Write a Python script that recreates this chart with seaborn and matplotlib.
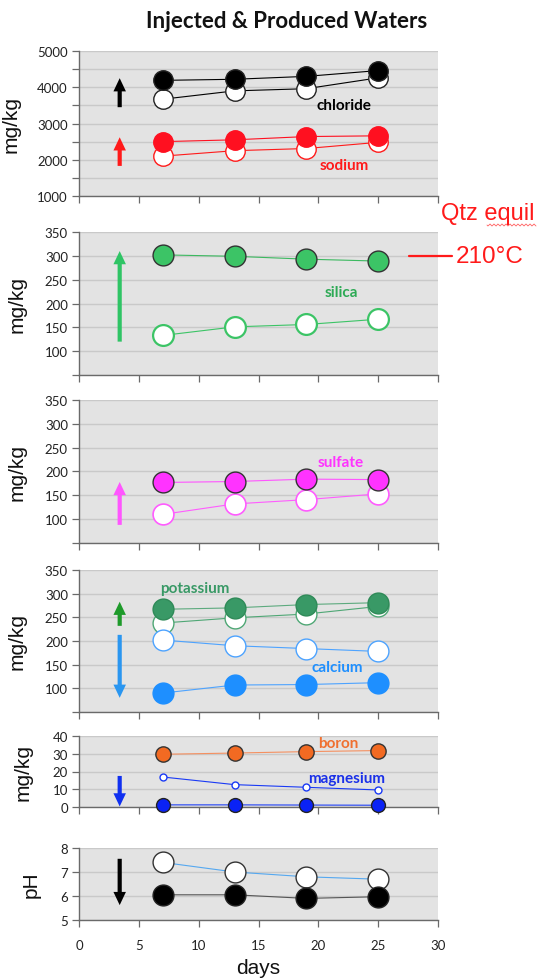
import numpy as np
import pandas as pd
import matplotlib
matplotlib.use("Agg")
import matplotlib.pyplot as plt
from matplotlib.ticker import MultipleLocator, FixedLocator, FuncFormatter
from matplotlib.lines import Line2D
import seaborn as sns

# ---- data (days since start of injection) ----
days = [7, 13, 19, 25]

chloride_injected = [3670, 3900, 3960, 4260]
chloride_produced = [4190, 4220, 4300, 4460]
sodium_injected = [2100, 2250, 2310, 2480]
sodium_produced = [2500, 2550, 2640, 2660]

silica_injected = [133, 151, 156, 167]
silica_produced = [302, 299, 293, 289]

sulfate_injected = [110, 132, 141, 153]
sulfate_produced = [177, 179, 184, 183]

potassium_injected = [238, 249, 257, 273]
potassium_produced = [267, 270, 277, 281]
calcium_injected = [202, 190, 184, 178]
calcium_produced = [90, 107, 108, 112]

boron_produced = [29.7, 30.4, 31.2, 31.8]
magnesium_injected = [16.9, 12.6, 11.1, 9.6]
magnesium_produced = [1.2, 1.2, 1.1, 1.0]

ph_injected = [7.4, 7.0, 6.8, 6.7]
ph_produced = [6.05, 6.05, 5.9, 5.97]

x_ticks = [0, 5, 10, 15, 20, 25, 30]

# ---- style ----
sns.set_style("ticks")
TICK_FONT = ["Lato", "DejaVu Sans"]
LABEL_FONT = ["Liberation Sans", "DejaVu Sans"]
plt.rcParams["font.family"] = TICK_FONT

BG = "#E3E3E3"
GRID = "#C9C9C9"
AXC = "#6A6A6A"

fig = plt.figure(figsize=(5.38, 9.79), dpi=100)

left, width = 79 / 538, 359 / 538
H = 979.0
panels_px = [(52, 197), (233, 376), (401, 544), (571, 713), (737, 808), (849, 921)]
axes = []
for top, bot in panels_px:
    ax = fig.add_axes([left, 1 - bot / H, width, (bot - top) / H])
    axes.append(ax)


def series(ax, values, color, open_marker, ms=14, edge=None, line=None, mew=1.0, lw=0.9, z=3):
    df = pd.DataFrame({"day": days, "value": values})
    sns.lineplot(
        data=df, x="day", y="value", ax=ax, errorbar=None,
        color=line if line else color, linewidth=lw, marker="o", markersize=ms,
        markerfacecolor="white" if open_marker else color,
        markeredgecolor=edge if edge else color,
        markeredgewidth=mew, zorder=z, clip_on=False,
    )


def arrow(ax, y0, y1, color):
    ax.annotate("", xy=(3.4, y1), xytext=(3.4, y0),
                arrowprops=dict(width=3.0, headwidth=9, headlength=9.5,
                                facecolor=color, edgecolor="none"), zorder=4)


def label(ax, x, y, text, color):
    ax.text(x, y, text, color=color, fontsize=11, fontweight="bold",
            ha="center", va="center", family=TICK_FONT, zorder=6)


def style_axis(ax, ylim, major, minor=None, hide_bottom_label=False, ylabel="mg/kg", lab_x=-0.145):
    ax.set_facecolor(BG)
    ax.set_xlim(0, 30)
    ax.set_ylim(*ylim)
    ax.xaxis.set_major_locator(FixedLocator(x_ticks))
    ax.yaxis.set_major_locator(MultipleLocator(major))
    if minor:
        ax.yaxis.set_minor_locator(MultipleLocator(minor))
        ax.tick_params(axis="y", which="minor", length=5, width=0.9, color=AXC, direction="out")
    if hide_bottom_label:
        lo = ylim[0]
        ax.yaxis.set_major_formatter(FuncFormatter(lambda v, p: "" if abs(v - lo) < 1e-9 else f"{v:g}"))
    ax.grid(True, axis="y", which="both", color=GRID, linewidth=1.0, zorder=0)
    ax.grid(False, axis="x")
    ax.set_axisbelow(True)
    for s in ("top", "right"):
        ax.spines[s].set_visible(False)
    for s in ("left", "bottom"):
        ax.spines[s].set_color(AXC)
        ax.spines[s].set_linewidth(1.0)
    ax.tick_params(axis="both", which="major", length=5, width=0.9, color=AXC,
                   direction="out", labelsize=9.5, labelcolor="#222222", pad=3)
    ax.set_xlabel("")
    ax.set_ylabel(ylabel, fontsize=15, family=LABEL_FONT, color="#111111")
    ax.yaxis.set_label_coords(lab_x, 0.5)


# ---- panel 1: chloride & sodium ----
ax = axes[0]
series(ax, chloride_injected, "black", True, ms=14, edge="#222222", lw=0.8)
series(ax, chloride_produced, "black", False, ms=14, edge="#222222", lw=0.8)
series(ax, sodium_injected, "#FF1A1A", True, ms=14, lw=0.8)
series(ax, sodium_produced, "#FF1020", False, ms=14, lw=0.8)
arrow(ax, 3450, 4250, "black")
arrow(ax, 1830, 2620, "#FF1A1A")
label(ax, 22.1, 3510, "chloride", "black")
label(ax, 22.2, 1860, "sodium", "#FF1A1A")
style_axis(ax, (1000, 5000), 1000, 500, lab_x=-0.163)

# ---- panel 2: silica ----
ax = axes[1]
series(ax, silica_injected, "#3CC466", True, ms=15, mew=1.6, lw=0.8)
series(ax, silica_produced, "#3CC466", False, ms=15, edge="#333333", line="#3CB960", lw=0.8)
arrow(ax, 120, 310, "#2FC465")
label(ax, 21.9, 224, "silica", "#2DAA55")
style_axis(ax, (50, 350), 50, hide_bottom_label=True)

# ---- panel 3: sulfate ----
ax = axes[2]
series(ax, sulfate_injected, "#FF5CFF", True, ms=15, mew=1.2, lw=0.8)
series(ax, sulfate_produced, "#FF33FF", False, ms=15, edge="#333333", line="#FF55FF", lw=0.8)
arrow(ax, 88, 178, "#FF55FF")
label(ax, 21.9, 219, "sulfate", "#FF33FF")
style_axis(ax, (50, 350), 50, hide_bottom_label=True)

# ---- panel 4: potassium & calcium ----
ax = axes[3]
series(ax, potassium_injected, "#4FA775", True, ms=15, mew=1.0, lw=0.8)
series(ax, calcium_injected, "#4DA3FF", True, ms=15, mew=1.0, lw=0.8)
series(ax, potassium_produced, "#399966", False, ms=15, edge="#2F8A58", line="#5DAA7E", lw=0.8)
series(ax, calcium_produced, "#1E8FFF", False, ms=15, line="#4DA3FF", lw=0.8)
arrow(ax, 232, 283, "#1E9A2A")
arrow(ax, 213, 80, "#2A96F0")
label(ax, 9.65, 311, "potassium", "#399966")
label(ax, 21.6, 144.5, "calcium", "#1E8FFF")
style_axis(ax, (50, 350), 50, hide_bottom_label=True)

# ---- panel 5: boron & magnesium ----
ax = axes[4]
series(ax, boron_produced, "#F26A22", False, ms=11, edge="#333333", line="#F59060", lw=0.8)
series(ax, magnesium_injected, "#1A3AF5", True, ms=5, mew=1.0, lw=0.8)
series(ax, magnesium_produced, "#0A22F5", False, ms=10, edge="#222222", line="#2040F5", lw=0.8)
arrow(ax, 17.5, 0.3, "#1030F0")
label(ax, 21.7, 35.9, "boron", "#F07030")
label(ax, 22.4, 16.3, "magnesium", "#1A30E8")
style_axis(ax, (0, 40), 10, lab_x=-0.13)

# ---- panel 6: pH ----
ax = axes[5]
series(ax, ph_injected, "white", True, ms=15, edge="#333333", line="#55A8F0", lw=0.8)
series(ax, ph_produced, "black", False, ms=15, edge="#222222", line="#555555", lw=0.8)
arrow(ax, 7.55, 5.62, "black")
style_axis(ax, (5, 8), 1, ylabel="pH", lab_x=-0.106)
ax.tick_params(axis="x", pad=9)
ax.set_xlabel("days", fontsize=15, family=LABEL_FONT, color="#111111", labelpad=5)

for a in axes[:-1]:
    a.tick_params(axis="x", labelbottom=False)

# ---- title and quartz-equilibrium note ----
fig.text(287 / 538, 1 - 22 / H, "Injected & Produced Waters", ha="center", va="center",
         fontsize=16, fontweight="bold", family=TICK_FONT, color="#111111")
fig.text(441 / 538, 1 - 214 / H, "Qtz equil", ha="left", va="center",
         fontsize=17, family=LABEL_FONT, color="#FF1A1A")
fig.text(456 / 538, 1 - 257 / H, "210°C", ha="left", va="center",
         fontsize=17.5, family=LABEL_FONT, color="#FF1A1A")
fig.add_artist(Line2D([409 / 538, 452 / 538], [1 - 257 / H, 1 - 257 / H],
                      transform=fig.transFigure, color="#FF1A1A", linewidth=1.6))
# spell-check squiggle under "equil"
sx = np.linspace(487, 536, 60)
sy = 226 + 1.0 * np.sin((sx - 487) * 2 * np.pi / 4.0)
fig.add_artist(Line2D(sx / 538, 1 - sy / H, transform=fig.transFigure,
                      color="#FF6060", linewidth=0.6))

fig.savefig("out.png", dpi=100)
